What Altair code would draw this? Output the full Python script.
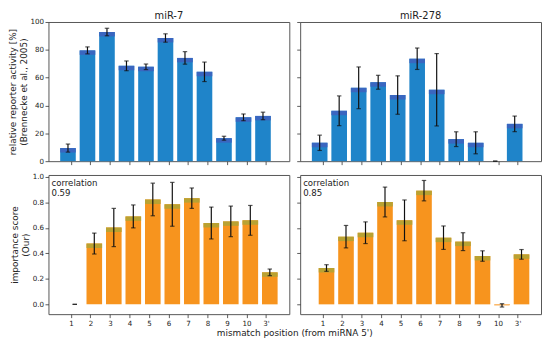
import json
import altair as alt
import pandas as pd

positions = [1, 2, 3, 4, 5, 6, 7, 8, 9, 10, 11]
tick_labels = ["1", "2", "3", "4", "5", "6", "7", "8", "9", "10", "3'"]

mir7_activity = [9.4, 79.6, 92.8, 68.5, 67.8, 88.5, 74.2, 64.2, 16.5, 31.5, 32.5]
mir7_activity_err = [2.9, 2.5, 2.7, 3.5, 2.0, 3.0, 4.5, 7.0, 1.4, 2.4, 2.7]
mir278_activity = [13.2, 36.2, 52.7, 56.7, 47.5, 73.6, 51.3, 15.8, 13.2, 0.0, 26.8]
mir278_activity_err = [5.5, 10.7, 15.0, 5.0, 13.8, 7.7, 26.0, 5.3, 7.9, 0.0, 5.6]
mir7_score = [0.0, 0.477, 0.603, 0.69, 0.823, 0.785, 0.833, 0.638, 0.651, 0.659, 0.251]
mir7_score_err = [0.0, 0.082, 0.15, 0.09, 0.128, 0.172, 0.08, 0.125, 0.12, 0.117, 0.026]
mir278_score = [0.285, 0.531, 0.562, 0.803, 0.659, 0.892, 0.523, 0.492, 0.379, -0.008, 0.392]
mir278_score_err = [0.026, 0.088, 0.085, 0.117, 0.16, 0.08, 0.092, 0.07, 0.041, 0.013, 0.038]
correlations = ["0.59", "0.85"]
titles = ["miR-7", "miR-278"]

FONT = "DejaVu Sans"
label_expr = json.dumps(tick_labels) + "[datum.value - 1]"
PANEL_W, PANEL_H = 244, 141


def panel(values, errs, top, left, title=None, corr=None):
    df = pd.DataFrame({"pos": positions, "val": values, "err": errs})
    off = -0.15 if top else 0.2
    body = "#1f84c9" if top else "#f7941e"
    cap = "#3a66c0" if top else "#b9a232"
    if top:
        ydom = [0, 100]
        yvals = [0, 20, 40, 60, 80, 100]
        yfmt = "d"
        ytitle = ["relative reporter activity [%]", "(Brennecke et al., 2005)"]
    else:
        ydom = [-0.077, 1.015]
        yvals = [0.0, 0.2, 0.4, 0.6, 0.8, 1.0]
        yfmt = ".1f"
        ytitle = ["importance score", "(Our)"]
    cap_units = 4.5 / PANEL_H * (ydom[1] - ydom[0])
    base = alt.Chart(df).transform_calculate(
        xc=f"datum.pos + ({off})",
        x0=f"datum.pos + ({off}) - 0.4",
        x1=f"datum.pos + ({off}) + 0.4",
        lo="datum.val - datum.err",
        hi="datum.val + datum.err",
        capb=f"max(0, datum.val - {cap_units})",
    )
    xscale = alt.Scale(domain=[-0.15, 12.2], nice=False, zero=False)
    yscale = alt.Scale(domain=ydom, nice=False, zero=False)

    xaxis_kwargs = dict(values=positions, labelExpr=label_expr, labels=not top)
    if (not top) and left:
        xaxis_kwargs.update(title="mismatch position (from miRNA 5')",
                            titleX=249, titleAlign="center")
    else:
        xaxis_kwargs.update(title=None)
    xaxis = alt.Axis(**xaxis_kwargs)
    yaxis = alt.Axis(values=yvals, format=yfmt, labels=left,
                     title=ytitle if left else None)

    def X(f):
        return alt.X(f, scale=xscale, axis=xaxis)

    def Y(f):
        return alt.Y(f, scale=yscale, axis=yaxis)

    bars = base.mark_bar(color=body).encode(
        x=X("x0:Q"), x2="x1:Q", y=Y("val:Q"), y2=alt.datum(0),
    )
    caps = base.transform_filter("datum.val > 0").mark_bar(color=cap).encode(
        x=X("x0:Q"), x2="x1:Q", y=Y("val:Q"), y2="capb:Q",
    )
    rule = base.mark_rule(color="#111", strokeWidth=1.2).encode(
        x=X("xc:Q"), y=Y("lo:Q"), y2="hi:Q",
    )
    cap_lo = base.mark_tick(color="#111", orient="horizontal", size=4.5,
                            thickness=1.2).encode(x=X("xc:Q"), y=Y("lo:Q"))
    cap_hi = base.mark_tick(color="#111", orient="horizontal", size=4.5,
                            thickness=1.2).encode(x=X("xc:Q"), y=Y("hi:Q"))
    layers = [bars, caps, rule, cap_lo, cap_hi]
    if corr is not None:
        tdf = pd.DataFrame({"t": ["correlation\n" + corr]})
        txt = alt.Chart(tdf).mark_text(
            align="left", baseline="top", lineBreak="\n", fontSize=8.7,
            font=FONT, color="#222", lineHeight=10.6
        ).encode(x=alt.value(3), y=alt.value(4), text="t:N")
        layers.append(txt)
    if title is not None:
        ttl = alt.Chart(pd.DataFrame({"t": [title]})).mark_text(
            align="center", baseline="alphabetic", fontSize=10, font=FONT,
            color="#222"
        ).encode(x=alt.value(PANEL_W / 2), y=alt.value(-3), text="t:N")
        layers.append(ttl)
    return alt.layer(*layers).properties(width=PANEL_W, height=PANEL_H)


tl = panel(mir7_activity, mir7_activity_err, True, True, title=titles[0])
tr = panel(mir278_activity, mir278_activity_err, True, False, title=titles[1])
bl = panel(mir7_score, mir7_score_err, False, True, corr=correlations[0])
br = panel(mir278_score, mir278_score_err, False, False, corr=correlations[1])

chart = alt.concat(
    tl, tr, bl, br, columns=2,
    spacing=alt.RowColnumber(row=14, column=11),
    bounds="flush",
).properties(
    padding={"left": 0, "top": 0, "right": 0, "bottom": 0}
).configure_view(
    stroke="#555", strokeWidth=1
).configure_axis(
    domain=False, grid=False, tickSize=3.5, tickColor="#333", tickWidth=0.8,
    labelFontSize=7.2, labelFont=FONT, labelColor="#222", labelPadding=1.5,
    titleFontSize=9, titleFont=FONT, titleFontWeight="normal",
    titleColor="#222", titlePadding=2, titleLineHeight=10.5,
)

chart.save("out.html", embed_options={"renderer": "svg", "actions": False})
